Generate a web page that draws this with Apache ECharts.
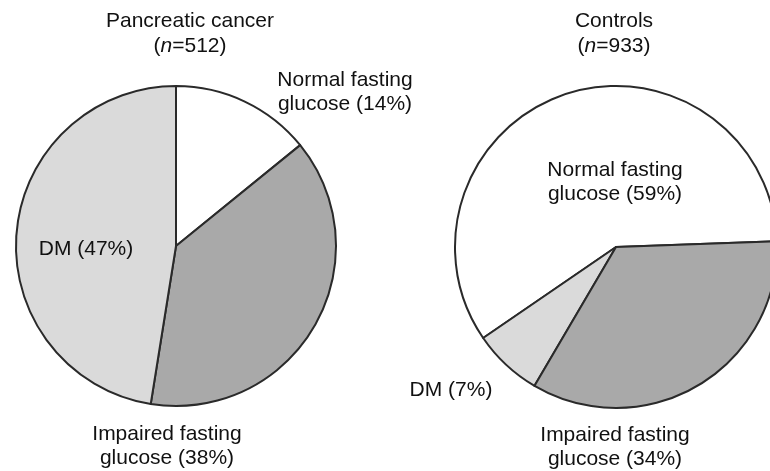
<!DOCTYPE html>
<html>
<head>
<meta charset="utf-8">
<script src="https://cdn.jsdelivr.net/npm/echarts@6/dist/echarts.min.js"></script>
<style>
html,body{margin:0;padding:0;background:#fff;}
#chart{width:770px;height:471px;}
</style>
</head>
<body>
<div id="chart"></div>
<script>
// Data
var categories = ['Normal fasting glucose', 'Impaired fasting glucose', 'DM'];
var pancreaticValues = [14, 38, 47];
var controlValues = [59, 34, 7];
var groupNames = ['Pancreatic cancer', 'Controls'];
var groupN = [512, 933];

var colors = {
  'Normal fasting glucose': '#ffffff',
  'Impaired fasting glucose': '#a9a9a9',
  'DM': '#dadada'
};

function labelText(name, v) {
  if (name === 'DM') return 'DM (' + v + '%)';
  var parts = name.split(' ');
  return parts[0] + ' ' + parts[1] + '\n' + parts[2] + ' (' + v + '%)';
}

function buildData(values, order) {
  return order.map(function (i) {
    return {
      name: categories[i],
      value: values[i],
      itemStyle: { color: colors[categories[i]] }
    };
  });
}

var chart = echarts.init(document.getElementById('chart'));
var font = '"Liberation Sans", Arial, Helvetica, sans-serif';
var baseText = { fontFamily: font, fontSize: 21, lineHeight: 24, fill: '#111', align: 'center', verticalAlign: 'middle' };

function txt(x, y, text, extra) {
  var st = Object.assign({}, baseText, { text: text }, extra || {});
  return { type: 'text', x: x, y: y, z: 100, style: st, silent: true };
}

var richI = { i: { fontStyle: 'italic', fontFamily: font, fontSize: 21, fill: '#111' }, r: { fontFamily: font, fontSize: 21, fill: '#111' } };
function titleText(k) {
  return '{r|' + groupNames[k] + '}\n{r|(}{i|n}{r|=' + groupN[k] + ')}';
}

var seriesCommon = {
  type: 'pie',
  radius: 160,
  label: { show: false },
  labelLine: { show: false },
  silent: true,
  animation: false,
  emphasis: { disabled: true },
  itemStyle: { borderColor: '#2a2a2a', borderWidth: 2 }
};

chart.setOption({
  backgroundColor: '#ffffff',
  animation: false,
  series: [
    Object.assign({}, seriesCommon, {
      center: [176, 246],
      startAngle: 90,
      clockwise: true,
      data: buildData(pancreaticValues, [0, 1, 2])
    }),
    Object.assign({}, seriesCommon, {
      center: [616, 247],
      radius: 161,
      startAngle: 2,
      clockwise: false,
      data: buildData(controlValues, [0, 2, 1])
    })
  ],
  graphic: {
    elements: [
      { type: 'text', x: 190, y: 34, z: 100, silent: true, style: { text: titleText(0), rich: richI, align: 'center', verticalAlign: 'middle', lineHeight: 25, fontFamily: font, fontSize: 21 } },
      { type: 'text', x: 614, y: 34, z: 100, silent: true, style: { text: titleText(1), rich: richI, align: 'center', verticalAlign: 'middle', lineHeight: 25, fontFamily: font, fontSize: 21 } },
      txt(345, 92, labelText(categories[0], pancreaticValues[0])),
      txt(86, 249, labelText(categories[2], pancreaticValues[2])),
      txt(167, 446, labelText(categories[1], pancreaticValues[1])),
      txt(615, 182, labelText(categories[0], controlValues[0])),
      txt(451, 390, labelText(categories[2], controlValues[2])),
      txt(615, 447, labelText(categories[1], controlValues[1]))
    ]
  }
});
</script>
</body>
</html>
